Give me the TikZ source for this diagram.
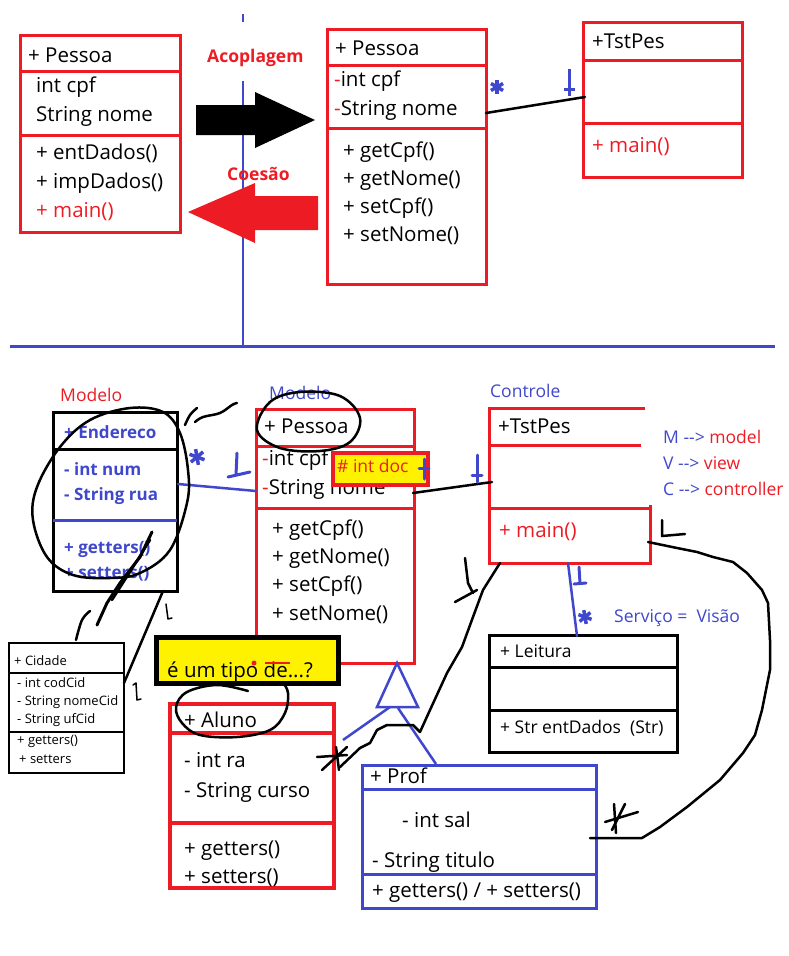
\documentclass[tikz,border=0pt]{standalone}
\usepackage{fontspec}
\setmainfont{Open Sans}
\usetikzlibrary{calc}
\definecolor{pRed}{HTML}{ED1C24}
\definecolor{pBlue}{HTML}{3F48CC}
\definecolor{pYellow}{HTML}{FFF200}
\begin{document}
\begin{tikzpicture}[
    x=1pt, y=-1pt,
    cls/.style={draw=#1, line width=3pt, inner sep=0pt, outer sep=0pt, anchor=north west},
    divider/.style={draw=#1, line width=3pt},
    txtL/.style={anchor=base west, inner sep=0pt, font=\fontsize{20.5}{24}\selectfont},
    txtM/.style={anchor=base west, inner sep=0pt, font=\fontsize{17.5}{21}\selectfont},
    txtS/.style={anchor=base west, inner sep=0pt, font=\fontsize{13}{15}\selectfont},
    txtB/.style={anchor=base west, inner sep=0pt, font=\fontsize{17}{21}\selectfont\bfseries},
    ink/.style={line width=2.5pt, line cap=round, line join=round},
]
\useasboundingbox (0,0) rectangle (788,956);
\fill[white] (0,0) rectangle (788,956);

% ---------- top half: coupling / cohesion ----------
\draw[pBlue, line width=2.5pt] (243,14) -- (243,22);
\draw[pBlue, line width=2.5pt] (243,81) -- (243,345);
\draw[pBlue, line width=3pt] (10,346) -- (775,346);

\node[cls=pRed, minimum width=160pt, minimum height=197pt] (pesA) at (20,35) {};
\draw[divider=pRed] (20,71) -- (180,71);
\draw[divider=pRed] (20,135) -- (180,135);
\node[txtL] (pesA-n) at (28,62) {+ Pessoa};
\node[txtL] (pesA-a1) at (36,92) {int cpf};
\node[txtL] (pesA-a2) at (36,121) {String nome};
\node[txtL] (pesA-m1) at (36,159) {+ entDados()};
\node[txtL] (pesA-m2) at (36,188) {+ impDados()};
\node[txtL, text=pRed] (pesA-m3) at (36,217) {+ main()};

\node[txtB, font=\fontsize{17.5}{21}\selectfont\bfseries, text=pRed] (acop) at (207,62) {Acoplagem};
\node[txtB, font=\fontsize{17.5}{21}\selectfont\bfseries, text=pRed] (coes) at (227,180) {Coesão};

% big arrows
\fill[black] (196,105) -- (255,105) -- (255,92) -- (315,120) -- (255,148) -- (255,135) -- (196,135) -- cycle;
\fill[pRed] (318,196) -- (255,196) -- (255,183) -- (188,212) -- (255,243) -- (255,230) -- (318,230) -- cycle;

\node[cls=pRed, minimum width=159pt, minimum height=255pt] (pesB) at (327,29) {};
\draw[divider=pRed] (327,65) -- (486,65);
\draw[divider=pRed] (327,128) -- (486,128);
\node[txtL] (pesB-n) at (335,55) {+ Pessoa};
\node[txtL] (pesB-a1) at (334,86) {\textcolor{pRed}{-}int cpf};
\node[txtL] (pesB-a2) at (334,115) {\textcolor{pRed}{-}String nome};
\node[txtL] (pesB-m1) at (343,157) {+ getCpf()};
\node[txtL] (pesB-m2) at (343,185) {+ getNome()};
\node[txtL] (pesB-m3) at (343,213) {+ setCpf()};
\node[txtL] (pesB-m4) at (343,241) {+ setNome()};

\node[cls=pRed, minimum width=159pt, minimum height=155pt] (tstA) at (583,22) {};
\draw[divider=pRed] (583,60) -- (742,60);
\draw[divider=pRed] (583,123) -- (742,123);
\node[txtL] (tstA-n) at (592,48) {+TstPes};
\node[txtL, text=pRed] (tstA-m) at (592,152) {+ main()};

\coordinate (pesB-as) at (486,113);
\coordinate (tstA-as) at (585,97);
\draw[ink] (pesB-as) -- (tstA-as);
\foreach \a in {90,30,150}
  \draw[pBlue, line width=3.5pt] ($(497,87)+(\a:7)$) -- ($(497,87)+(\a+180:7)$);
\draw[pBlue, line width=3pt] (569,69) -- (569,96);
\draw[pBlue, line width=3pt] (564,89) -- (575,89);

% ---------- bottom half: MVC ----------
\node[txtM, text=pRed] (modA) at (60,401) {Modelo};
\node[cls=black, minimum width=124pt, minimum height=179pt] (end) at (53,412) {};
\draw[divider=black] (53,449) -- (177,449);
\draw[divider=pBlue] (53,520) -- (177,520);
\node[txtB, text=pBlue] (end-n) at (64,438) {+ Endereco};
\node[txtB, text=pBlue] (end-a1) at (64,475) {- int num};
\node[txtB, text=pBlue] (end-a2) at (64,500) {- String rua};
\node[txtB, text=pBlue] (end-m1) at (64,553) {+ getters()};
\node[txtB, text=pBlue] (end-m2) at (64,578) {+ setters()};

\node[cls=black, line width=2.5pt, minimum width=115pt, minimum height=130pt] (cid) at (9,643) {};
\draw[black, line width=2.5pt] (9,673) -- (124,673);
\draw[black, line width=2.5pt] (9,732) -- (124,732);
\node[txtS] (cid-n) at (14,665) {+ Cidade};
\node[txtS] (cid-a1) at (17,687) {- int codCid};
\node[txtS] (cid-a2) at (17,705) {- String nomeCid};
\node[txtS] (cid-a3) at (17,723) {- String ufCid};
\node[txtS] (cid-m1) at (17,744) {+ getters()};
\node[txtS] (cid-m2) at (19,763) {+ setters};

\node[txtM, text=pBlue] (modB) at (269,399) {Modelo};
\node[cls=pRed, minimum width=158pt, minimum height=254pt] (pesC) at (256,409) {};
\draw[divider=pRed] (256,446) -- (415,446);
\draw[divider=pRed] (256,508) -- (414,508);
\node[txtL] (pesC-n) at (264,433) {+ Pessoa};
\node[txtL] (pesC-a1) at (262,465) {\textcolor{pRed}{-}int cpf};
\node[txtL] (pesC-a2) at (262,494) {\textcolor{pRed}{-}String nome};
\node[txtL] (pesC-m1) at (272,535) {+ getCpf()};
\node[txtL] (pesC-m2) at (272,563) {+ getNome()};
\node[txtL] (pesC-m3) at (272,591) {+ setCpf()};
\node[txtL] (pesC-m4) at (272,620) {+ setNome()};

\node[cls=pRed, line width=4.5pt, fill=pYellow, minimum width=95pt, minimum height=32pt] (doc) at (333,453) {};
\node[txtM, text=pRed] (doc-t) at (337,472) {\# int doc};

\node[txtM, text=pBlue] (ctrl) at (490,397) {Controle};
\draw[pRed, line width=3pt] (645,408) -- (489,408) -- (489,563) -- (650,563) -- (650,505);
\draw[divider=pRed] (489,445) -- (641,445);
\draw[divider=pRed] (489,508) -- (650,508);
\node[txtL] (tstB-n) at (498,433) {+TstPes};
\node[txtL, text=pRed] (tstB-m) at (499,537) {+ main()};

\node[txtM, text=pBlue] (mvc-m) at (663,443) {M -{}-> \textcolor{pRed}{model}};
\node[txtM, text=pBlue] (mvc-v) at (663,469) {V -{}-> \textcolor{pRed}{view}};
\node[txtM, text=pBlue] (mvc-c) at (663,495) {C -{}-> \textcolor{pRed}{controller}};

\node[txtM, text=pBlue] (serv) at (614,622) {Serviço =\ \ Visão};
\node[cls=black, minimum width=188pt, minimum height=117pt] (leit) at (489,635) {};
\draw[divider=black] (489,667) -- (677,667);
\draw[divider=black] (489,710) -- (677,710);
\node[txtM] (leit-n) at (500,657) {+ Leitura};
\node[txtM] (leit-m) at (500,733) {+ Str entDados\ \ (Str)};

\node[cls=pRed, line width=4.5pt, minimum width=164pt, minimum height=184pt] (alu) at (170,704) {};
\draw[pRed, line width=4.5pt] (170,733) -- (334,733);
\draw[pRed, line width=4.5pt] (170,823) -- (334,823);
\node[txtL] (alu-n) at (184,727) {+ Aluno};
\node[txtL] (alu-a1) at (184,767) {- int ra};
\node[txtL] (alu-a2) at (184,797) {- String curso};
\node[txtL] (alu-m1) at (184,855) {+ getters()};
\node[txtL] (alu-m2) at (184,883) {+ setters()};

\node[cls=pBlue, minimum width=234pt, minimum height=143pt] (prof) at (362,765) {};
\draw[divider=pBlue] (362,789) -- (596,789);
\draw[divider=pBlue] (362,874) -- (596,874);
\node[txtL] (prof-n) at (370,783) {+ Prof};
\node[txtL] (prof-a1) at (402,827) {- int sal};
\node[txtL] (prof-a2) at (372,867) {- String titulo};
\node[txtL] (prof-m) at (372,897) {+ getters() / + setters()};

% associations
\coordinate (end-as) at (178,484);
\coordinate (pesC-as) at (256,491);
\draw[pBlue, ink] (end-as) -- (pesC-as);
\foreach \a in {80,20,140}
  \draw[pBlue, line width=3.5pt] ($(197,457)+(\a:8)$) -- ($(197,457)+(\a+180:8)$);
\draw[pBlue, ink, line width=3pt] (237,453) -- (236,475);
\draw[pBlue, ink, line width=3pt] (228,477) -- (250,472);

\coordinate (pesC-as2) at (413,493);
\coordinate (tstB-as) at (492,482);
\draw[ink] (pesC-as2) -- (tstB-as);
\draw[pBlue, ink, line width=3pt] (424,459) -- (424,479);
\draw[pBlue, ink, line width=3pt] (419,468) -- (429,468);
\draw[pBlue, ink, line width=3pt] (477,455) -- (477,482);
\draw[pBlue, ink, line width=3pt] (472,475) -- (482,475);

\coordinate (tstB-dn) at (568,563);
\coordinate (leit-up) at (577,636);
\draw[pBlue, ink] (tstB-dn) -- (leit-up);
\draw[pBlue, ink, line width=3pt] (579,567) -- (580,583);
\draw[pBlue, ink, line width=3pt] (574,584) -- (586,583);
\foreach \a in {80,20,140}
  \draw[pBlue, line width=3.5pt] ($(585,617)+(\a:7)$) -- ($(585,617)+(\a+180:7)$);

\coordinate (end-dn) at (163,591);
\coordinate (cid-r) at (124,683);
\draw[ink] (end-dn) -- (cid-r);
\draw[ink, line width=1.5pt] (166,604) -- (168,619) -- (172,618);
\draw[ink, line width=1.5pt] (133,685) -- (136,683) -- (137,700) -- (141,699);

% generalization
\coordinate (gen-top) at (397,663);
\draw[pBlue, line width=2.5pt, line join=miter] (gen-top) -- (418,707) -- (377,707) -- cycle;
\coordinate (alu-gen) at (343,740);
\coordinate (prof-gen) at (436,764);
\draw[pBlue, line width=2.5pt] (390,707) -- (alu-gen);
\draw[pBlue, line width=2.5pt] (398,708) -- (prof-gen);

% hand scribbles
\draw[ink] plot[smooth cycle, tension=0.6] coordinates {(163,412) (130,408) (90,420) (60,447) (37,487) (33,520) (47,557) (73,575) (110,578) (140,573) (170,550) (187,503) (188,470) (180,433)};
\draw[ink] plot[smooth, tension=0.6] coordinates {(185,425) (190,415) (197,408)};
\draw[ink] plot[smooth, tension=0.6] coordinates {(195,422) (203,417) (220,413) (232,405) (237,403)};
\draw[ink, line width=3pt] (152,532) -- (140,557) -- (120,583) -- (107,603) -- (97,625);
\draw[ink] (150,540) -- (128,575) -- (112,600);
\draw[ink] plot[smooth, tension=0.6] coordinates {(76,640) (82,620) (90,611)};

\draw[ink] plot[smooth cycle, tension=0.6] coordinates {(257,430) (270,402) (300,392) (340,396) (360,418) (350,442) (320,451) (280,448)};

\coordinate (tstB-r) at (648,542);
\coordinate (prof-r) at (590,838);
\draw[ink] (tstB-r) -- (677,548) -- (697,552) -- (713,557) -- (733,562) -- (747,573) -- (762,590) -- (768,603) -- (770,640) -- (770,670) -- (762,710) -- (755,735) -- (743,753) -- (720,780) -- (687,807) -- (660,827) -- (642,838) -- (prof-r);
\draw[ink] (605,822) -- (638,812);
\draw[ink] (614,804) -- (616,833);
\draw[ink] (625,804) -- (612,830);
\draw[ink] (662,520) -- (662,536) -- (685,534);

\coordinate (tstB-dl) at (500,563);
\coordinate (alu-r) at (340,767);
\draw[ink] (tstB-dl) -- (483,590) -- (473,617) -- (462,647) -- (447,673) -- (430,710) -- (420,732) -- (413,725) -- (387,725) -- (377,730) -- (370,743) -- (360,748) -- (alu-r);
\draw[ink] (317,757) -- (347,755);
\draw[ink] (322,770) -- (347,747);
\draw[ink] (336,747) -- (339,770);
\draw[ink] (465,558) -- (468,583) -- (473,593);
\draw[ink] (455,602) -- (477,590);

\draw[ink] plot[smooth, tension=0.6] coordinates {(248,691) (217,685) (187,692) (176,707) (182,723) (200,735) (237,737) (270,730) (285,713) (288,693) (282,682) (275,680)};

\node[cls=black, line width=5pt, fill=pYellow, minimum width=182pt, minimum height=46pt] (tipo) at (156,637) {};
\node[txtL] (tipo-t) at (167,677) {é um tipo de...?};
\draw[pRed, line width=2.5pt] (265,663) -- (290,663);
\fill[pRed] (254,663) circle (2.5);

\end{tikzpicture}
\end{document}
